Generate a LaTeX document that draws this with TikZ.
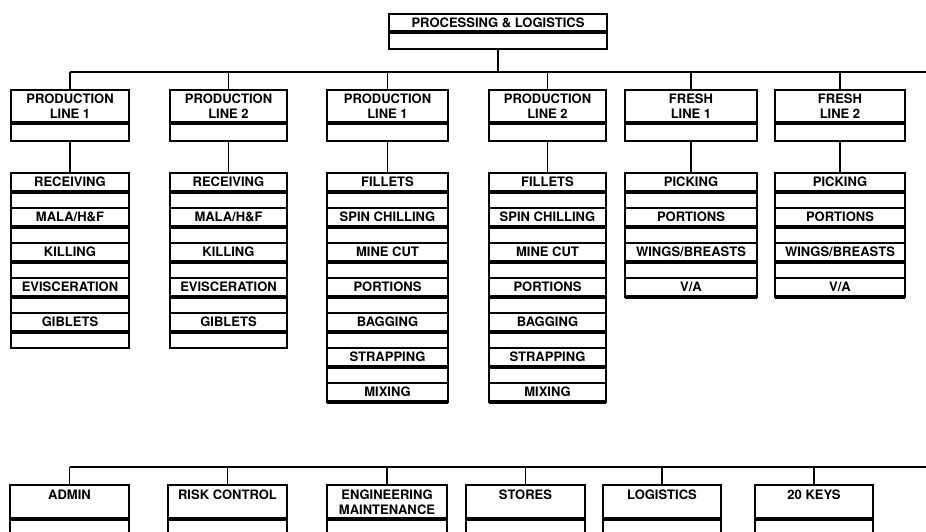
\documentclass[tikz,border=0pt]{standalone}
\usepackage{fontspec}
\setmainfont{TeX Gyre Heros}
\usetikzlibrary{positioning}

\tikzset{
	cell/.style={draw, line width=1.8pt, inner sep=0pt, outer sep=0pt, font=\bfseries\fontsize{13}{15}\selectfont},
	hdr/.style={cell, anchor=north west, align=center},
	blankrow/.style={cell},
	unitrow/.style={cell, anchor=north west, minimum height=19pt, text height=10pt, text depth=1.5pt},
	sep/.style={line width=3.2pt},
	link/.style={line width=1.3pt},
}

\begin{document}
\begin{tikzpicture}[x=1pt, y=-1pt]
	\useasboundingbox (0,0) rectangle (926,531);
	\clip (0,0) rectangle (926,531);
% top box
	\node[hdr, minimum width=218pt, minimum height=18pt] (top) at (389,14) {PROCESSING \& LOGISTICS};
	\node[blankrow, minimum width=218pt, minimum height=17pt, below=0pt of top] (topb) {};
	\draw[sep] (top.south west) -- (top.south east);
	\coordinate (tbus) at (926,72);
	\coordinate (bbus) at (926,467);

% production and fresh lines
	\foreach \i/\x/\w/\t in {1/11/118/{PRODUCTION\\LINE 1}, 2/170/117/{PRODUCTION\\LINE 2},
		3/327/121/{PRODUCTION\\LINE 1}, 4/489/117/{PRODUCTION\\LINE 2},
		5/625/132/{FRESH\\LINE 1}, 6/775/130/{FRESH\\LINE 2}}{
		\node[hdr, minimum width=\w pt, minimum height=33pt] (l\i) at (\x,90) {\t};
		\node[blankrow, minimum width=\w pt, minimum height=18pt, below=0pt of l\i] (lb\i) {};
		\draw[sep] (l\i.south west) -- (l\i.south east);
		\draw[link] (l\i.north) -- (l\i.north |- tbus);
	}
	\draw[link] (topb.south) -- (topb.south |- tbus);
	\draw[link] (l1.north |- tbus) -- (tbus);

% stations under each line
	\foreach \s/\x/\w/\n/\items in {
		1/11/118/5/{RECEIVING,MALA/H\&F,KILLING,EVISCERATION,GIBLETS},
		2/170/117/5/{RECEIVING,MALA/H\&F,KILLING,EVISCERATION,GIBLETS},
		3/327/121/6/{FILLETS,SPIN CHILLING,MINE CUT,PORTIONS,BAGGING,STRAPPING,MIXING},
		4/489/117/6/{FILLETS,SPIN CHILLING,MINE CUT,PORTIONS,BAGGING,STRAPPING,MIXING},
		5/625/132/3/{PICKING,PORTIONS,WINGS/BREASTS,V/A},
		6/775/130/3/{PICKING,PORTIONS,WINGS/BREASTS,V/A}}{
		\foreach \k in {1,...,\n}
			\node[blankrow, anchor=north west, minimum width=\w pt, minimum height=16pt] (s\s g\k) at (\x,{173+35*(\k-1)+19}) {};
		\foreach \r [count=\k] in \items{
			\node[unitrow, minimum width=\w pt] (s\s r\k) at (\x,{173+35*(\k-1)}) {\r};
			\draw[sep] (s\s r\k.south west) -- (s\s r\k.south east);
		}
		\draw[link] (lb\s.south) -- (s\s r1.north);
	}

% support departments
	\foreach \i/\x/\w/\t in {1/10/119/{ADMIN\\\phantom{X}}, 2/168/119/{RISK CONTROL\\\phantom{X}},
		3/327/120/{ENGINEERING\\MAINTENANCE}, 4/466/119/{STORES\\\phantom{X}},
		5/603/118/{LOGISTICS\\\phantom{X}}, 6/755/118/{20 KEYS\\\phantom{X}}}{
		\node[hdr, minimum width=\w pt, minimum height=34pt] (d\i) at (\x,485) {\t};
		\node[blankrow, minimum width=\w pt, minimum height=30pt, below=0pt of d\i] (db\i) {};
		\draw[sep] (d\i.south west) -- (d\i.south east);
		\draw[link] (d\i.north) -- (d\i.north |- bbus);
	}
	\draw[link] (d1.north |- bbus) -- (bbus);
\end{tikzpicture}
\end{document}
